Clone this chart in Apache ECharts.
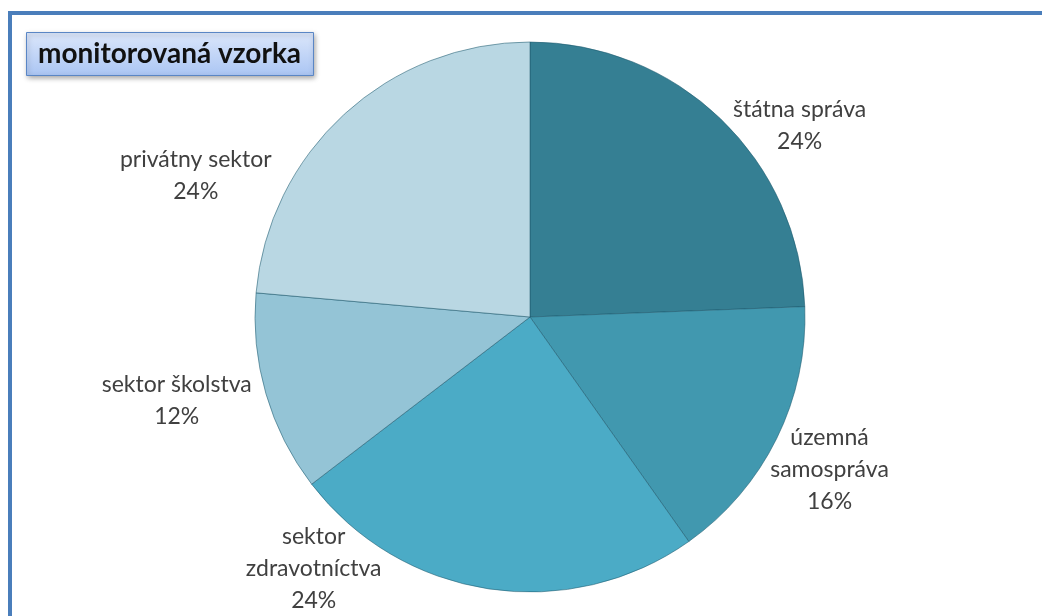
<!DOCTYPE html>
<html>
<head>
<meta charset="utf-8">
<script src="https://cdn.jsdelivr.net/npm/echarts@6/dist/echarts.min.js"></script>
<style>
html, body { margin: 0; padding: 0; background: #fff; }
#chart_1 { width: 1042px; height: 616px; }
</style>
</head>
<body>
<div id="chart_1"></div>
<script>
// údaje z grafu
var sektory = ['štátna správa', 'územná samospráva', 'sektor zdravotníctva', 'sektor školstva', 'privátny sektor'];
var podiel = [24.4, 15.8, 24.4, 11.8, 23.6];
var farby = ['#357f93', '#4198af', '#4babc6', '#94c4d6', '#b9d7e3'];
// posun popisov (dx, dy)
var posun = [[60, 21], [30, 22], [-167, -40], [-65, 1], [-130, 76]];

var chart_1 = echarts.init(document.getElementById('chart_1'));

var data = [];
for (var i = 0; i < sektory.length; i++) {
    data.push({
        name: sektory[i],
        value: podiel[i],
        itemStyle: { color: farby[i] }
    });
}

var option = {
    backgroundColor: '#fff',
    animation: false,
    title: {
        text: 'monitorovaná vzorka',
        left: 26,
        top: 32,
        padding: [8, 13, 8, 12],
        backgroundColor: {
            type: 'linear', x: 0, y: 0, x2: 0, y2: 1,
            colorStops: [{ offset: 0, color: '#dce7fb' }, { offset: 1, color: '#aac5f3' }]
        },
        borderColor: '#5a86c5',
        borderWidth: 1,
        shadowColor: 'rgba(0,0,0,0.35)',
        shadowBlur: 5,
        shadowOffsetX: 1,
        shadowOffsetY: 2,
        textStyle: {
            fontFamily: 'Lato',
            fontSize: 28,
            fontWeight: 'bold',
            color: '#111'
        }
    },
    graphic: [{
        type: 'rect',
        shape: { x: 10, y: 13, width: 1100, height: 700 },
        style: { fill: 'none', stroke: '#4a7ebb', lineWidth: 4 },
        z: 100
    }],
    series: [{
        type: 'pie',
        center: [530, 317],
        radius: 275,
        startAngle: 90,
        clockwise: true,
        avoidLabelOverlap: false,
        data: data,
        itemStyle: {
            borderColor: 'rgba(30,90,110,0.55)',
            borderWidth: 1
        },
        label: {
            show: true,
            position: 'outside',
            fontFamily: 'Lato',
            fontSize: 23,
            lineHeight: 32,
            color: '#404040',
            formatter: function (p) {
                var n = p.name;
                if (p.dataIndex === 1) n = 'územná\nsamospráva';
                if (p.dataIndex === 2) n = 'sektor\nzdravotníctva';
                return n + '\n' + Math.round(p.percent) + '%';
            }
        },
        labelLine: { show: false, length: 20, length2: 0 },
        labelLayout: function (p) {
            var o = posun[p.dataIndex];
            return { dx: o[0], dy: o[1], align: 'center', verticalAlign: 'middle' };
        }
    }]
};
chart_1.setOption(option);
</script>
</body>
</html>
